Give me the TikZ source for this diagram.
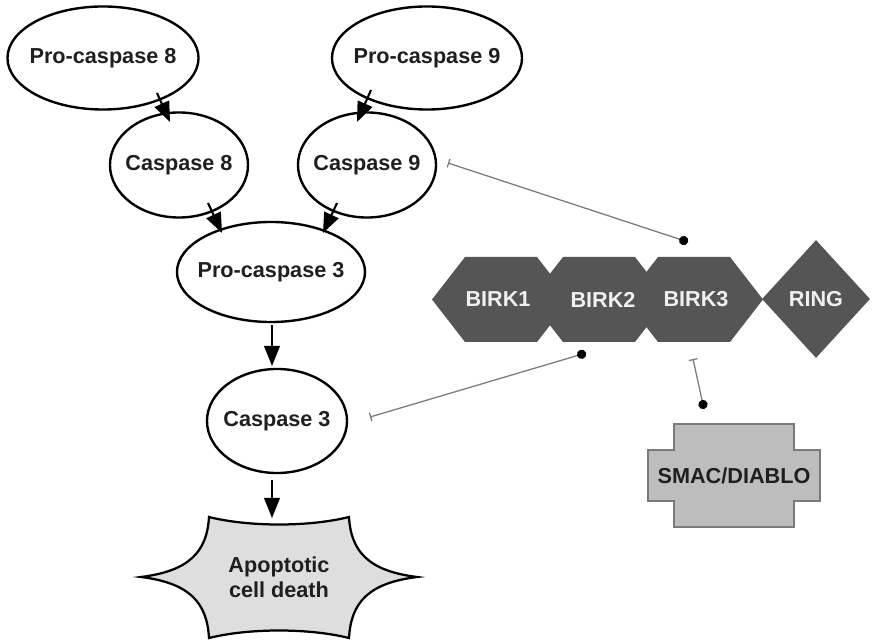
\documentclass[tikz,border=0pt]{standalone}
\usepackage{fontspec}
\setmainfont{Liberation Sans}
\usetikzlibrary{positioning,arrows.meta,calc,shapes.geometric}
\definecolor{iapgray}{HTML}{555555}
\definecolor{smacgray}{HTML}{BDBDBD}
\definecolor{deathgray}{HTML}{DEDEDE}
\definecolor{linegray}{HTML}{7A7A7A}
\tikzset{
  caspase/.style={draw, ellipse, line width=1.7pt, inner xsep=-0.4cm, inner ysep=0pt, align=center, text=black!88},
  activate/.style={-{Triangle[length=5mm, width=3.9mm]}, line width=1.5pt},
  inhibit/.style={{Circle[length=2.3mm, color=black, fill=black]}-{Bar[width=2.2mm]}, draw=linegray, line width=0.9pt},
  iapdomain/.style={fill=iapgray},
  domainlabel/.style={text=white!94!black, inner sep=0pt},
  ringbox/.style={diamond, fill=iapgray, text=white!94!black, inner sep=0pt, minimum width=2.7cm, minimum height=2.95cm},
  smacshape/.style={fill=smacgray, draw=linegray, line width=0.8pt},
  deathshape/.style={fill=deathgray, draw=black, line width=1.6pt},
  plainlabel/.style={align=center, inner sep=0pt, text=black!88}
}

\begin{document}
\begin{tikzpicture}[x=0.025cm, y=-0.025cm, font=\fontsize{15.4}{18}\selectfont\bfseries]
  \useasboundingbox (0,0) rectangle (873,642);
  % caspase cascade
  \node[caspase, minimum width=4.775cm, minimum height=2.575cm] (pc8) at (103,58) {Pro-caspase 8};
  \node[caspase, minimum width=4.75cm, minimum height=2.575cm] (pc9) at (427,58) {Pro-caspase 9};
  \node[caspase, minimum width=3.45cm, minimum height=2.625cm] (c8) at (179,165) {Caspase 8};
  \node[caspase, minimum width=3.45cm, minimum height=2.625cm] (c9) at (367,165) {Caspase 9};
  \node[caspase, minimum width=4.7cm, minimum height=2.5cm] (pc3) at (271,272) {Pro-caspase 3};
  \node[caspase, minimum width=3.5cm, minimum height=2.6cm] (c3) at (277,421) {Caspase 3};

  % apoptotic cell death
  \begin{scope}[shift={(279,577)}]
    \filldraw[deathshape] (-138,0) .. controls (-90,-6) and (-72,-25) .. (-70,-60)
      .. controls (-30,-50) and (30,-50) .. (70,-60)
      .. controls (72,-25) and (90,-6) .. (138,0)
      .. controls (90,6) and (72,25) .. (70,61)
      .. controls (30,51) and (-30,51) .. (-70,61)
      .. controls (-72,25) and (-90,6) .. cycle;
  \end{scope}
  \node[plainlabel] (death) at (279,577) {Apoptotic\\cell death};

  \draw[activate] ($(pc8)+(54,35)$) -- ($(c8)+(-9,-43)$);
  \draw[activate] ($(pc9)+(-56,32)$) -- ($(c9)+(-10,-43)$);
  \draw[activate] ($(c8)+(29,38)$) -- ($(pc3)+(-49,-39)$);
  \draw[activate] ($(c9)+(-30,38)$) -- ($(pc3)+(52,-39)$);
  \draw[activate] ($(pc3)+(1,53)$) -- ($(c3)+(-5,-55)$);
  \draw[activate] ($(c3)+(-5,59)$) -- ($(death)+(-7,-59)$);

  % IAP domains
  \foreach \cx in {501, 599, 694} {
    \fill[iapdomain] (\cx-69,299.5) -- (\cx-36,257) -- (\cx+36,257) -- (\cx+69,299.5)
      -- (\cx+36,342) -- (\cx-36,342) -- cycle;
  }
  \node[domainlabel] (birk1) at (498,299.5) {BIRK1};
  \node[domainlabel] (birk2) at (603,299.5) {BIRK2};
  \node[domainlabel] (birk3) at (696,299.5) {BIRK3};
  \node[ringbox] (ring) at (816,299) {RING};

  % SMAC/DIABLO
  \begin{scope}[shift={(734,475.5)}]
    \filldraw[smacshape] (-60,-51.5) -- (60,-51.5) -- (60,-25.5) -- (86,-25.5) -- (86,25.5)
      -- (60,25.5) -- (60,51.5) -- (-60,51.5) -- (-60,25.5) -- (-86,25.5) -- (-86,-25.5)
      -- (-60,-25.5) -- cycle;
  \end{scope}
  \node[plainlabel] (smac) at (734,475.5) {SMAC/DIABLO};

  % inhibitions
  \draw[inhibit] ($(birk3)+(-8,-57.5)$) -- ($(c9)+(81,-2)$);
  \draw[inhibit] ($(birk2)+(-17,53.5)$) -- ($(c3)+(93,-4)$);
  \draw[inhibit] ($(smac)+(-30,-66.5)$) -- ($(birk3)+(-3,59.5)$);
\end{tikzpicture}
\end{document}
